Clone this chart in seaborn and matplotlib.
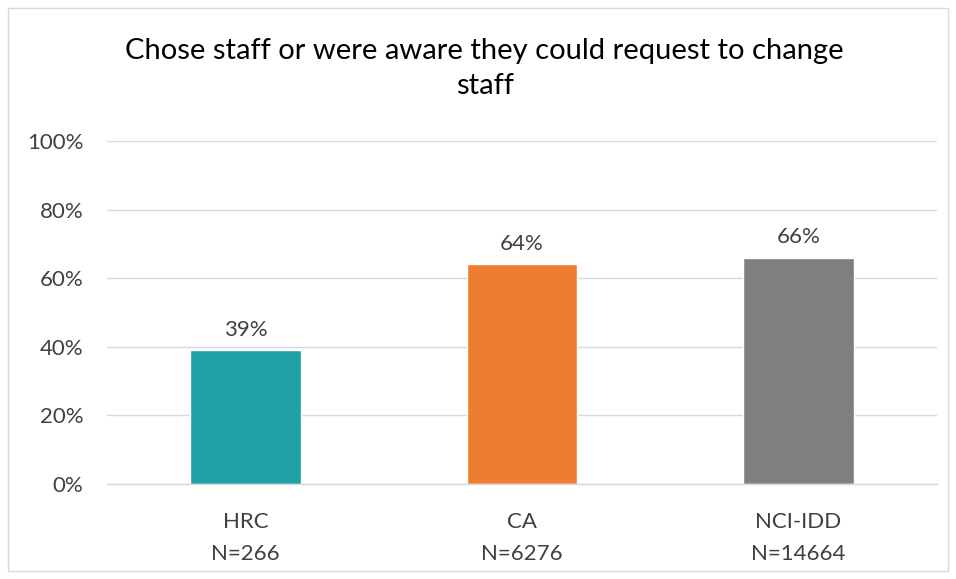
import matplotlib
matplotlib.use("Agg")
import matplotlib.pyplot as plt
import matplotlib.patches as mpatches
import seaborn as sns
import pandas as pd

# data
groups = ["HRC", "CA", "NCI-IDD"]
sizes = ["N=266", "N=6276", "N=14664"]
pct = [39, 64, 66]
bar_colors = ["#22A0A8", "#ED7D31", "#7F7F7F"]

df = pd.DataFrame({"group": groups, "pct": pct})

sns.set_style("white")
plt.rcParams['font.family'] = ['Lato', 'DejaVu Sans']

fig = plt.figure(figsize=(9.56, 5.79), dpi=100)
ax = fig.add_axes([0.112, 0.164, 0.868, 0.5925])

sns.barplot(data=df, x="group", y="pct", hue="group", palette=bar_colors,
            width=0.4, legend=False, ax=ax, saturation=1)

for i, v in enumerate(pct):
    ax.text(i, v + 3.0, f"{v}%", ha="center", va="bottom", fontsize=16, color="#404040")

ax.set_ylim(0, 100)
ax.set_xlim(-0.5, 2.5)
ax.set_yticks(range(0, 101, 20))
ax.set_yticklabels([f"{t}%" for t in range(0, 101, 20)], fontsize=16, color="#404040")
ax.set_xticks(range(len(groups)))
ax.set_xticklabels([f"{g}\n{n}" for g, n in zip(groups, sizes)], fontsize=16,
                   color="#404040", linespacing=1.75)
ax.tick_params(axis="both", length=0)
ax.tick_params(axis="y", pad=17)
ax.tick_params(axis="x", pad=20)
ax.set_xlabel("")
ax.set_ylabel("")
ax.yaxis.grid(True, color="#D9D9D9", linewidth=1)
ax.set_axisbelow(True)
for s in ["top", "right", "left"]:
    ax.spines[s].set_visible(False)
ax.spines["bottom"].set_color("#D9D9D9")
ax.spines["bottom"].set_linewidth(1)

fig.text(0.507, 0.882, "Chose staff or were aware they could request to change\nstaff",
         ha="center", va="center", fontsize=21, color="#000000", linespacing=1.45)

# outer chart border
fig.patches.append(mpatches.Rectangle((8 / 956, 8 / 579), 940 / 956, 563 / 579,
                                      transform=fig.transFigure, fill=False,
                                      edgecolor="#D9D9D9", linewidth=1))

fig.savefig("out.png", dpi=100)
